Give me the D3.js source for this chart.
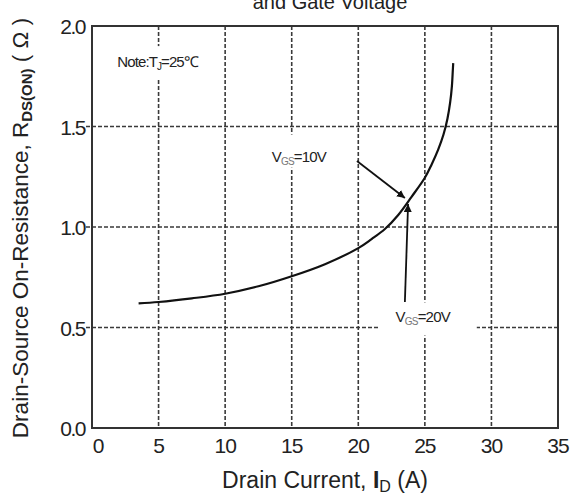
<!DOCTYPE html>
<html>
<head>
<meta charset="utf-8">
<script src="https://cdn.jsdelivr.net/npm/d3@7"></script>
<style>
  body { margin: 0; background: #fff; }
  text { font-family: "Liberation Sans", Arial, sans-serif; fill: #222; }
</style>
</head>
<body>
<div id="chart"></div>
<script>
// drain current (A) vs on-resistance (ohm), Tj = 25C
var currentA = [3.5, 5, 7.5, 10, 12.5, 15, 17.5, 20, 21, 22, 23, 24, 25, 25.5, 26, 26.4, 26.7, 26.9, 27.03, 27.1, 27.13];
var resistance = [0.62, 0.627, 0.645, 0.668, 0.705, 0.755, 0.815, 0.895, 0.94, 0.99, 1.06, 1.15, 1.245, 1.31, 1.385, 1.46, 1.54, 1.62, 1.7, 1.78, 1.815];

var xTicks = [0, 5, 10, 15, 20, 25, 30, 35];
var yTicks = [0.0, 0.5, 1.0, 1.5, 2.0];

// annotation arrows: [from, to] in data units
var arrow10 = [[19.9, 1.328], [23.5, 1.144]];
var arrow20 = [[23.5, 0.627], [23.74, 1.114]];

function plotChart() {
  var margin = { top: 26, right: 15, bottom: 69, left: 92 },
    width = 573 - margin.left - margin.right,
    height = 497 - margin.top - margin.bottom;

  var root = d3
    .select("#chart")
    .append("svg")
    .attr("width", 573)
    .attr("height", 497);

  var svg = root
    .append("g")
    .attr("transform", "translate(" + margin.left + "," + margin.top + ")");

  var x = d3.scaleLinear().domain([0, 35]).range([0, width]);
  var y = d3.scaleLinear().domain([0, 2]).range([height, 0]);

  var gridColor = "#3a3a3a";

  // dashed grid
  svg
    .selectAll(".vgrid")
    .data(xTicks.slice(1, -1))
    .enter()
    .append("line")
    .attr("x1", function (d) { return x(d); })
    .attr("x2", function (d) { return x(d); })
    .attr("y1", 0)
    .attr("y2", height)
    .style("stroke", gridColor)
    .style("stroke-width", 1.6)
    .style("stroke-dasharray", "4,2");

  svg
    .selectAll(".hgrid")
    .data(yTicks.slice(1, -1))
    .enter()
    .append("line")
    .attr("x1", -6)
    .attr("x2", width)
    .attr("y1", function (d) { return y(d); })
    .attr("y2", function (d) { return y(d); })
    .style("stroke", gridColor)
    .style("stroke-width", 1.6)
    .style("stroke-dasharray", "4,2");

  // white boxes behind the labels break the grid
  var boxes = [
    [x(1.5), y(1.9), x(9.6), y(1.735)],
    [x(12.8), y(1.46), x(19.5), y(1.295)],
    [x(21.5), y(0.625), x(28.9), y(0.46)]
  ];
  svg
    .selectAll(".box")
    .data(boxes)
    .enter()
    .append("rect")
    .attr("x", function (d) { return d[0]; })
    .attr("y", function (d) { return d[1]; })
    .attr("width", function (d) { return d[2] - d[0]; })
    .attr("height", function (d) { return d[3] - d[1]; })
    .style("fill", "#fff");

  // frame
  svg
    .append("rect")
    .attr("width", width)
    .attr("height", height)
    .style("fill", "none")
    .style("stroke", "#333")
    .style("stroke-width", 2);

  // curve
  var line = d3
    .line()
    .x(function (d, i) { return x(currentA[i]); })
    .y(function (d) { return y(d); })
    .curve(d3.curveCatmullRom.alpha(0.5));

  svg
    .append("path")
    .datum(resistance)
    .attr("d", line)
    .style("fill", "none")
    .style("stroke", "#111")
    .style("stroke-width", 2.2);

  // arrows
  root
    .append("defs")
    .append("marker")
    .attr("id", "head")
    .attr("viewBox", "0 0 10 10")
    .attr("refX", 10)
    .attr("refY", 5)
    .attr("markerWidth", 8)
    .attr("markerHeight", 8)
    .attr("markerUnits", "userSpaceOnUse")
    .attr("orient", "auto")
    .append("path")
    .attr("d", "M0,0L10,5L0,10Z")
    .style("fill", "#111");

  svg
    .selectAll(".arrow")
    .data([arrow10, arrow20])
    .enter()
    .append("line")
    .attr("x1", function (d) { return x(d[0][0]); })
    .attr("y1", function (d) { return y(d[0][1]); })
    .attr("x2", function (d) { return x(d[1][0]); })
    .attr("y2", function (d) { return y(d[1][1]); })
    .attr("marker-end", "url(#head)")
    .style("stroke", "#111")
    .style("stroke-width", 1.8);

  // labels inside the plot
  var note = svg
    .append("text")
    .attr("x", x(1.9))
    .attr("y", y(1.795))
    .style("font-size", "15px")
    .style("letter-spacing", "-0.9px");
  note.append("tspan").text("Note:T");
  note.append("tspan").attr("dy", 3).style("font-size", "10px").text("J");
  note.append("tspan").attr("dy", -3).text("=25\u2103");

  function vgsLabel(xv, yv, txt) {
    var t = svg
      .append("text")
      .attr("x", x(xv))
      .attr("y", y(yv))
      .style("font-size", "15px")
      .style("letter-spacing", "-0.8px");
    t.append("tspan").text("V");
    t.append("tspan").attr("dy", 3).style("font-size", "10px").style("fill", "#777").text("GS");
    t.append("tspan").attr("dy", -3).text(txt);
  }
  vgsLabel(13.5, 1.325, "=10V");
  vgsLabel(22.8, 0.525, "=20V");

  // tick labels
  svg
    .selectAll(".xlab")
    .data(xTicks)
    .enter()
    .append("text")
    .attr("x", function (d) { return d == 0 ? x(d) + 6 : x(d); })
    .attr("y", height + 25)
    .attr("text-anchor", "middle")
    .style("font-size", "21px")
    .style("letter-spacing", "-1px")
    .text(function (d) { return d; });

  svg
    .selectAll(".ylab")
    .data(yTicks)
    .enter()
    .append("text")
    .attr("x", -7)
    .attr("y", function (d) { return y(d) + 8; })
    .attr("text-anchor", "end")
    .style("font-size", "21px")
    .style("letter-spacing", "-1.5px")
    .text(function (d) { return d.toFixed(1); });

  // axis titles
  var xt = root
    .append("text")
    .attr("x", margin.left + width / 2)
    .attr("y", 488)
    .attr("text-anchor", "middle")
    .style("font-size", "23px");
  xt.append("tspan").text("Drain Current, ");
  xt.append("tspan").style("font-weight", "bold").text("I");
  xt.append("tspan").attr("dy", 4).style("font-size", "16px").text("D");
  xt.append("tspan").attr("dy", -4).text(" (A)");

  var yt = root
    .append("text")
    .attr("transform", "translate(28,228) rotate(-90)")
    .attr("text-anchor", "middle")
    .style("font-size", "22.5px");
  yt.append("tspan").text("Drain-Source On-Resistance, R");
  yt.append("tspan").attr("dy", 4).style("font-size", "15px").style("font-weight", "bold").text("DS(ON)");
  yt.append("tspan").attr("dy", -4).text(" ( \u03A9 )");

  // chart title, cut off at the top edge
  root
    .append("text")
    .attr("x", 330)
    .attr("y", 9)
    .attr("text-anchor", "middle")
    .style("font-size", "20px")
    .text("and Gate Voltage");
}

plotChart();
</script>
</body>
</html>
